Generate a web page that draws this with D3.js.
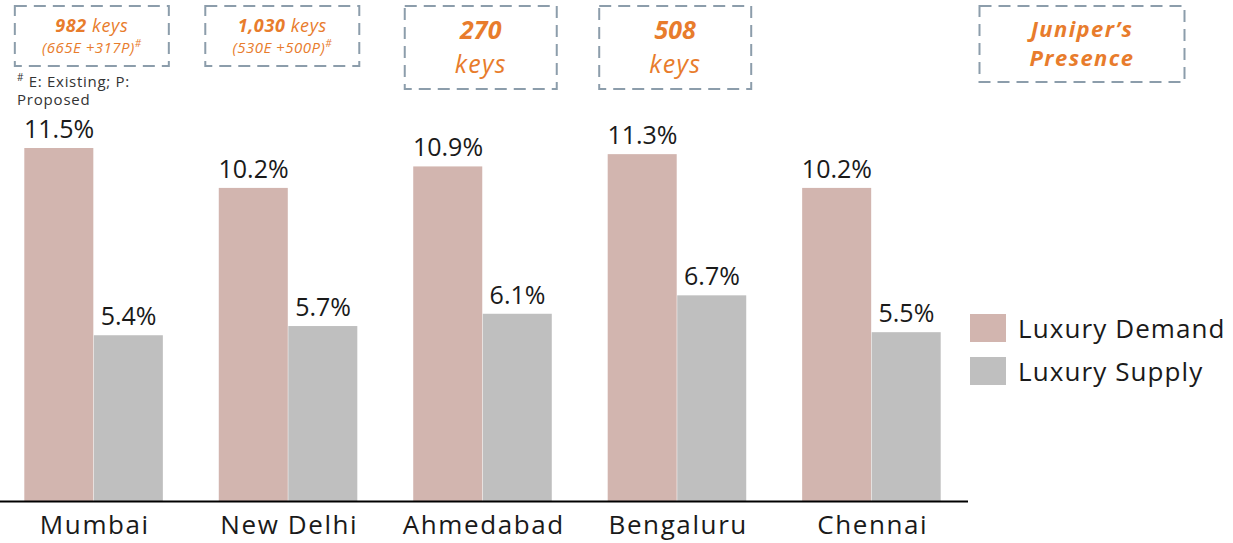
<!DOCTYPE html>
<html>
<head>
<meta charset="utf-8">
<script src="https://cdn.jsdelivr.net/npm/d3@7"></script>
<style>
  body { margin: 0; background: #fff; }
  svg { display: block; font-family: "Open Sans", "DejaVu Sans", sans-serif; }
</style>
</head>
<body>
<svg id="chart" width="1233" height="543"></svg>
<script>
// dati
const cities = ["Mumbai", "New Delhi", "Ahmedabad", "Bengaluru", "Chennai"];
const demand = [11.5, 10.2, 10.9, 11.3, 10.2];
const supply = [5.4, 5.7, 6.1, 6.7, 5.5];
const seriesNames = ["Luxury Demand", "Luxury Supply"];
const seriesColors = ["#d2b5af", "#bfbfbf"];

// box chiavi sopra le città
const keyBoxes = [
  { city: "Mumbai", big: "982", small: "keys", sub: "(665E +317P)" },
  { city: "New Delhi", big: "1,030", small: "keys", sub: "(530E +500P)" },
  { city: "Ahmedabad", big: "270", small: "keys", sub: null },
  { city: "Bengaluru", big: "508", small: "keys", sub: null }
];

const svg = d3.select("#chart");
const orange = "#e87c2c";
const dashColor = "#8c9dab";
const textColor = "#1a1a1a";
const baseY = 501;

const x = d3.scaleBand().domain(cities).range([-3.5, 969]).paddingInner(0.285).paddingOuter(0.143);
const sub = d3.scaleBand().domain([0, 1]).range([0, x.bandwidth()]);
const y = d3.scaleLinear().domain([0, 11.5]).range([baseY, 148]);

const rows = cities.map((c, i) => ({ city: c, vals: [demand[i], supply[i]] }));

const g = svg.append("g");
const groups = g.selectAll("g.city").data(rows).enter()
  .append("g").attr("class", "city")
  .attr("transform", d => `translate(${x(d.city)},0)`);

groups.selectAll("rect").data(d => d.vals).enter()
  .append("rect")
  .attr("x", (v, i) => sub(i))
  .attr("width", sub.bandwidth() - 0.5)
  .attr("y", v => y(v))
  .attr("height", v => baseY - y(v))
  .attr("fill", (v, i) => seriesColors[i]);

groups.selectAll("text.val").data(d => d.vals).enter()
  .append("text").attr("class", "val")
  .attr("x", (v, i) => sub(i) + sub.bandwidth() / 2)
  .attr("y", v => y(v) - 10)
  .attr("text-anchor", "middle")
  .attr("font-size", 25)
  .attr("fill", textColor)
  .text(v => v.toFixed(1) + "%");

// asse x
g.append("line")
  .attr("x1", 0).attr("x2", 968)
  .attr("y1", baseY + 0.5).attr("y2", baseY + 0.5)
  .attr("stroke", "#000").attr("stroke-width", 2);

g.selectAll("text.cat").data(cities).enter()
  .append("text").attr("class", "cat")
  .attr("x", d => x(d) + x.bandwidth() / 2 + 1)
  .attr("y", 534)
  .attr("text-anchor", "middle")
  .attr("font-size", 26)
  .attr("letter-spacing", 1.6)
  .attr("fill", textColor)
  .text(d => d);

// legenda
const leg = svg.append("g").attr("transform", "translate(970,314)");
seriesNames.forEach((n, i) => {
  leg.append("rect").attr("x", 0).attr("y", i * 43).attr("width", 36).attr("height", 28).attr("fill", seriesColors[i]);
  leg.append("text").attr("x", 48).attr("y", i * 43 + 24).attr("font-size", 26)
    .attr("letter-spacing", 1.1).attr("fill", textColor).text(n);
});

// box tratteggiati
function dashBox(cx, y0, w, h) {
  svg.append("rect").attr("x", cx - w / 2).attr("y", y0).attr("width", w).attr("height", h)
    .attr("fill", "none").attr("stroke", dashColor).attr("stroke-width", 2)
    .attr("stroke-dasharray", "12,7");
}

keyBoxes.forEach((b, i) => {
  const cx = x(b.city) + x.bandwidth() / 2 - (i === 1 ? 6 : 2);
  if (b.sub) {
    dashBox(cx, 6, 154, 60);
    const t = svg.append("text").attr("x", cx).attr("y", 32).attr("text-anchor", "middle")
      .attr("font-size", 18).attr("letter-spacing", 0.6).attr("font-style", "italic").attr("fill", orange);
    t.append("tspan").attr("font-weight", "bold").text(b.big);
    t.append("tspan").text(" " + b.small);
    const s = svg.append("text").attr("x", cx).attr("y", 53).attr("text-anchor", "middle")
      .attr("font-size", 15).attr("letter-spacing", 0.5).attr("font-style", "italic").attr("fill", orange).text(b.sub);
    s.append("tspan").attr("font-size", 10).attr("dy", -6).text("#");
  } else {
    dashBox(cx, 6, 152, 83);
    svg.append("text").attr("x", cx).attr("y", 39).attr("text-anchor", "middle")
      .attr("font-size", 25).attr("font-style", "italic").attr("font-weight", "bold")
      .attr("fill", orange).text(b.big);
    svg.append("text").attr("x", cx).attr("y", 73).attr("text-anchor", "middle")
      .attr("font-size", 25).attr("letter-spacing", 1.3).attr("font-style", "italic")
      .attr("fill", orange).text(b.small);
  }
});

dashBox(1082, 6, 205, 76);
["Juniper\u2019s", "Presence"].forEach((t, i) => {
  svg.append("text").attr("x", 1082).attr("y", 37 + i * 29).attr("text-anchor", "middle")
    .attr("font-size", 22).attr("letter-spacing", 1.4).attr("font-style", "italic").attr("font-weight", "bold")
    .attr("fill", orange).text(t);
});

// nota
const note = svg.append("text").attr("x", 17).attr("y", 87).attr("font-size", 15).attr("letter-spacing", 0.7).attr("fill", "#333");
note.append("tspan").attr("font-size", 10).attr("dy", -6).text("#");
note.append("tspan").attr("dy", 6).text(" E: Existing; P:");
svg.append("text").attr("x", 17).attr("y", 105).attr("font-size", 15).attr("letter-spacing", 0.8)
  .attr("fill", "#333").text("Proposed");
</script>
</body>
</html>
